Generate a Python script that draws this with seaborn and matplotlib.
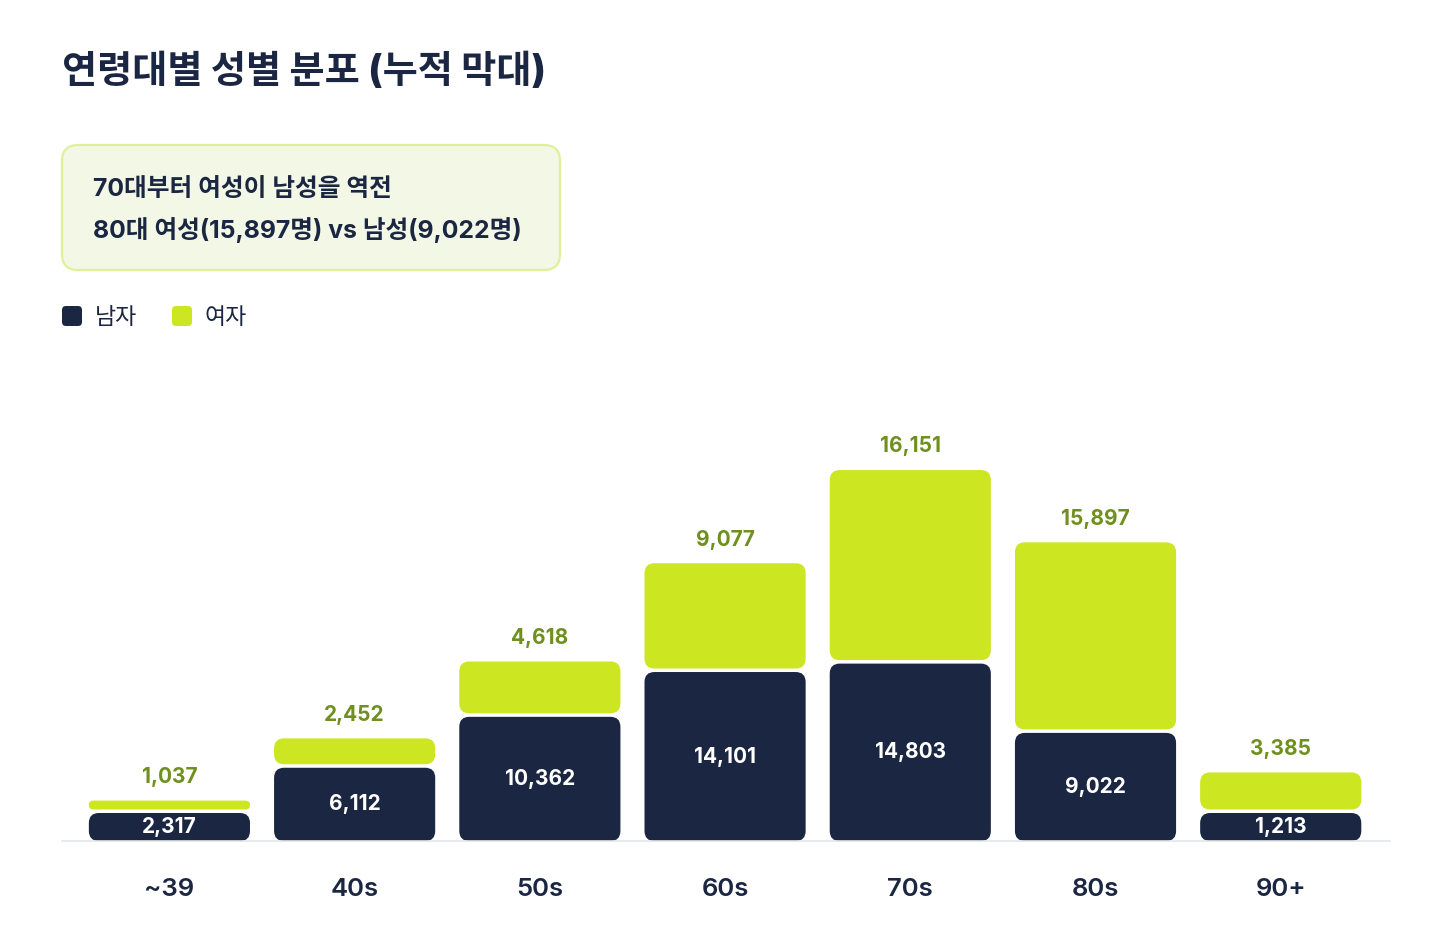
import matplotlib
matplotlib.use("Agg")
import matplotlib.pyplot as plt
from matplotlib.patches import FancyBboxPatch
import seaborn as sns
import pandas as pd

ages = ['~39', '40s', '50s', '60s', '70s', '80s', '90+']
male = [2317, 6112, 10362, 14101, 14803, 9022, 1213]
female = [1037, 2452, 4618, 9077, 16151, 15897, 3385]

title = '연령대별 성별 분포 (누적 막대)'
note_lines = ['70대부터 여성이 남성을 역전', '80대 여성(15,897명) vs 남성(9,022명)']
legend_labels = ['남자', '여자']

NAVY = '#1b2742'
LIME = '#cce621'
OLIVE = '#6f8f1e'
KR = ['Noto Sans CJK KR', 'DejaVu Sans']
NUM = ['Inter', 'Noto Sans CJK KR', 'DejaVu Sans']

sns.set_theme(style='white')
plt.rcParams['font.family'] = KR

df = pd.DataFrame({'age': ages, 'male': male, 'female': female})
df['total'] = df['male'] + df['female']

fig = plt.figure(figsize=(14.51, 9.32), dpi=100)
ax = fig.add_axes([62 / 1451, 91 / 932, 1328 / 1451, 441 / 932])

sns.barplot(data=df, x='age', y='total', color=LIME, width=0.87, ax=ax, saturation=1)
sns.barplot(data=df, x='age', y='male', color=NAVY, width=0.87, ax=ax, saturation=1)

ax.set_xlim(-0.58, 6.59)
ax.set_ylim(0, 36800)
fig.canvas.draw()

# data units per pixel, for rounded corners and the gap between segments
bb = ax.get_window_extent()
x_per_px = (ax.get_xlim()[1] - ax.get_xlim()[0]) / bb.width
y_per_px = (ax.get_ylim()[1] - ax.get_ylim()[0]) / bb.height
aspect = y_per_px / x_per_px
gap = 3.5 * y_per_px
min_male = 28 * y_per_px  # small segments stay tall enough for their label

bars = list(ax.patches)
n = len(ages)
total_bars, male_bars = bars[:n], bars[n:2 * n]
for p in bars:
    p.remove()


def rounded(x, y0, w, h, color):
    r_px = min(10, h / y_per_px / 2)
    box = FancyBboxPatch((x, y0), w, h,
                         boxstyle=f'round,pad=0,rounding_size={r_px * x_per_px}',
                         mutation_aspect=aspect, facecolor=color, edgecolor='none')
    ax.add_patch(box)


for tb, mb, m, f in zip(total_bars, male_bars, male, female):
    x, w = mb.get_x(), mb.get_width()
    mh = max(mb.get_height(), min_male)
    fh = tb.get_height() - mb.get_height()
    rounded(x, 0, w, mh, NAVY)
    rounded(x, mh + gap, w, fh - gap, LIME)
    cx = x + w / 2
    ax.text(cx, mh / 2, f'{m:,}', ha='center', va='center', family=NUM,
            color='white', fontsize=15, fontweight='bold')
    ax.annotate(f'{f:,}', (cx, mh + fh), xytext=(0, 17), textcoords='offset points',
                ha='center', va='center', color=OLIVE, fontsize=15,
                fontweight='bold', family=NUM)

sns.despine(ax=ax, left=True, top=True, right=True)
ax.spines['bottom'].set_color('#e3e6ea')
ax.spines['bottom'].set_linewidth(1.2)
ax.set_yticks([])
ax.set_xlabel('')
ax.set_ylabel('')
ax.tick_params(axis='x', length=0, pad=27, labelsize=18.5, labelcolor=NAVY)
for lbl in ax.get_xticklabels():
    lbl.set_family(NUM)
    lbl.set_fontweight('semibold')

W, H = 1451, 932

# title
fig.text(62 / W, 1 - 72 / H, title, ha='left', va='center', family=NUM,
         fontsize=27.5, fontweight='heavy', color=NAVY)

# note box
fig.add_artist(FancyBboxPatch((62 / W, 1 - 270 / H), 498 / W, 125 / H,
                              boxstyle=f'round,pad=0,rounding_size={16 / W}',
                              mutation_aspect=W / H, transform=fig.transFigure,
                              facecolor='#f3f7e6', edgecolor='#dff09a', linewidth=1.6))
for i, line in enumerate(note_lines):
    fig.text(93 / W, 1 - (190 + 40 * i) / H, line, ha='left', va='center',
             family=NUM, fontsize=17.8, fontweight='bold', color=NAVY)

# legend
for x0, lab, col in [(62, legend_labels[0], NAVY), (172, legend_labels[1], LIME)]:
    fig.add_artist(FancyBboxPatch((x0 / W, 1 - 326 / H), 20 / W, 20 / H,
                                  boxstyle=f'round,pad=0,rounding_size={4 / W}',
                                  mutation_aspect=W / H, transform=fig.transFigure,
                                  facecolor=col, edgecolor='none'))
    fig.text((x0 + 33) / W, 1 - 318 / H, lab, ha='left', va='center',
             fontsize=16.5, fontweight='medium', color=NAVY)

fig.savefig('out.png', dpi=100, facecolor='white')
